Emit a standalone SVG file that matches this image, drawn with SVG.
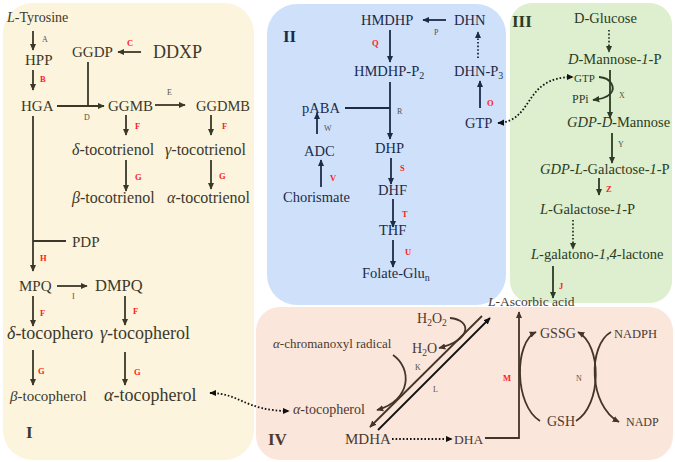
<svg xmlns="http://www.w3.org/2000/svg" width="675" height="462" viewBox="0 0 675 462">
<style>
text{font-family:"Liberation Serif","Times New Roman",serif;}
.t1{fill:#3b392c;}
.t2{fill:#1d2b49;}
.t3{fill:#2c3b24;}
.t4{fill:#4a3a30;}
.red{fill:#ff1a1a;font-weight:bold;font-size:8.5px;}
.lab{fill:#55524a;font-size:8px;}
.roman{font-weight:bold;font-size:17px;}
.i{font-style:italic;}
.c1{stroke:#3b3828;stroke-width:1.8;fill:none;}
.c2{stroke:#1d2b49;stroke-width:1.8;fill:none;}
.c3{stroke:#2c3b24;stroke-width:1.8;fill:none;}
.c4{stroke:#44342a;stroke-width:1.8;fill:none;}
.c5{stroke:#111;stroke-width:1.8;fill:none;}
.dot{stroke-dasharray:1.6 2;}
</style>
<defs>
<marker id="a1" viewBox="0 0 10 10" refX="9" refY="5" markerWidth="7" markerHeight="7" markerUnits="userSpaceOnUse" orient="auto"><path d="M0,0.5 L10,5 L0,9.5 z" fill="#3b3828"/></marker>
<marker id="a2" viewBox="0 0 10 10" refX="9" refY="5" markerWidth="7" markerHeight="7" markerUnits="userSpaceOnUse" orient="auto"><path d="M0,0.5 L10,5 L0,9.5 z" fill="#1d2b49"/></marker>
<marker id="a3" viewBox="0 0 10 10" refX="9" refY="5" markerWidth="7" markerHeight="7" markerUnits="userSpaceOnUse" orient="auto"><path d="M0,0.5 L10,5 L0,9.5 z" fill="#2c3b24"/></marker>
<marker id="a4" viewBox="0 0 10 10" refX="9" refY="5" markerWidth="7" markerHeight="7" markerUnits="userSpaceOnUse" orient="auto"><path d="M0,0.5 L10,5 L0,9.5 z" fill="#44342a"/></marker>
<marker id="a5" viewBox="0 0 10 10" refX="9" refY="5" markerWidth="7" markerHeight="7" markerUnits="userSpaceOnUse" orient="auto"><path d="M0,0.5 L10,5 L0,9.5 z" fill="#111"/></marker>
<marker id="a5s" viewBox="0 0 10 10" refX="1" refY="5" markerWidth="7" markerHeight="7" markerUnits="userSpaceOnUse" orient="auto"><path d="M10,0.5 L0,5 L10,9.5 z" fill="#111"/></marker>
</defs>

<!-- panels -->
<g id="panels">
<rect x="3" y="3" width="251" height="457" rx="30" fill="#fcf4dc"/>
<rect x="267" y="4" width="239" height="301" rx="30" fill="#cfe1fa"/>
<rect x="510" y="3" width="162" height="300" rx="22" fill="#ddefcf"/>
<rect x="256" y="307" width="417" height="153" rx="24" fill="#fbe6dc"/>
</g>

<!-- connectors -->
<g id="connectors">
<!-- panel I -->
<line class="c1" x1="33" y1="31" x2="33" y2="50" marker-end="url(#a1)"/>
<line class="c1" x1="33" y1="70" x2="33" y2="90" marker-end="url(#a1)"/>
<line class="c1" x1="57" y1="106" x2="104" y2="106" marker-end="url(#a1)"/>
<line class="c1" x1="88" y1="62" x2="88" y2="106"/>
<line class="c1" x1="141" y1="52" x2="118" y2="52" marker-end="url(#a1)"/>
<line class="c1" x1="155" y1="105" x2="185" y2="105" marker-end="url(#a1)"/>
<line class="c1" x1="126" y1="115" x2="126" y2="135" marker-end="url(#a1)"/>
<line class="c1" x1="211" y1="115" x2="211" y2="135" marker-end="url(#a1)"/>
<line class="c1" x1="126" y1="160" x2="126" y2="191" marker-end="url(#a1)"/>
<line class="c1" x1="211" y1="160" x2="211" y2="189" marker-end="url(#a1)"/>
<line class="c1" x1="33" y1="116" x2="33" y2="271" marker-end="url(#a1)"/>
<line class="c1" x1="33" y1="241" x2="66" y2="241"/>
<line class="c1" x1="57" y1="286" x2="87" y2="286" marker-end="url(#a1)"/>
<line class="c1" x1="33" y1="296" x2="33" y2="326" marker-end="url(#a1)"/>
<line class="c1" x1="125" y1="296" x2="125" y2="325" marker-end="url(#a1)"/>
<line class="c1" x1="33" y1="350" x2="33" y2="385" marker-end="url(#a1)"/>
<line class="c1" x1="125" y1="352" x2="125" y2="385" marker-end="url(#a1)"/>
<path class="c5 dot" d="M210,393 C240,393 245,411 289,411" marker-start="url(#a5s)" marker-end="url(#a5)"/>
<!-- panel II -->
<line class="c2" x1="446" y1="20" x2="423" y2="20" marker-end="url(#a2)"/>
<line class="c2" x1="390" y1="30" x2="390" y2="62" marker-end="url(#a2)"/>
<line class="c2 dot" x1="478" y1="58" x2="478" y2="32" marker-end="url(#a2)"/>
<line class="c2" x1="480" y1="108" x2="480" y2="81" marker-end="url(#a2)"/>
<line class="c2" x1="390" y1="82" x2="390" y2="139" marker-end="url(#a2)"/>
<line class="c2" x1="345" y1="108" x2="390" y2="108"/>
<line class="c2" x1="317" y1="134" x2="317" y2="113" marker-end="url(#a2)"/>
<line class="c2" x1="321" y1="187" x2="321" y2="160" marker-end="url(#a2)"/>
<line class="c2" x1="391" y1="158" x2="391" y2="184" marker-end="url(#a2)"/>
<line class="c2" x1="393" y1="199" x2="393" y2="227" marker-end="url(#a2)"/>
<line class="c2" x1="393" y1="240" x2="393" y2="267" marker-end="url(#a2)"/>
<path class="c5 dot" d="M498,123 C535,121 522,77 573,77" marker-start="url(#a5s)" marker-end="url(#a5)"/>
<!-- panel III -->
<line class="c3 dot" x1="609" y1="30" x2="609" y2="52" marker-end="url(#a3)"/>
<line class="c3" x1="610" y1="70" x2="610" y2="118" marker-end="url(#a3)"/>
<path class="c3" d="M599,77 C612,78 615,88 611,93 C607,98 600,99 593,100" marker-end="url(#a3)"/>
<line class="c3" x1="612" y1="133" x2="612" y2="163" marker-end="url(#a3)"/>
<line class="c3" x1="599" y1="178" x2="599" y2="195" marker-end="url(#a3)"/>
<line class="c3 dot" x1="573" y1="220" x2="573" y2="249" marker-end="url(#a3)"/>
<line class="c3" x1="553" y1="266" x2="553" y2="298" marker-end="url(#a3)"/>
<!-- panel IV -->
<line class="c5 dot" x1="392" y1="439" x2="452" y2="439" marker-end="url(#a5)"/>
<polyline class="c4" points="485,438 519,438 519,312" marker-end="url(#a4)"/>
<line class="c4" x1="482" y1="316" x2="370" y2="427" marker-end="url(#a4)"/>
<line class="c5" x1="378" y1="430" x2="490" y2="318" marker-end="url(#a5)"/>
<path class="c4" d="M450,318 C472,320 472,340 439,348" marker-end="url(#a4)"/>
<path class="c4" d="M393,355 C412,368 412,400 377,410" marker-end="url(#a4)"/>
<path class="c4" d="M540,421 C514,405 514,342 536,332" marker-end="url(#a4)"/>
<path class="c4" d="M576,421 C602,405 602,345 578,332" marker-end="url(#a4)"/>
<path class="c4" d="M611,332 C588,345 588,405 619,422" marker-end="url(#a4)"/>
</g>

<!-- Panel I nodes -->
<g id="n-tyrosine"><text class="t1" x="7" y="22" font-size="14"><tspan class="i">L</tspan>-Tyrosine</text></g>
<g id="n-hpp"><text class="t1" x="25" y="65" font-size="15">HPP</text></g>
<g id="n-hga"><text class="t1" x="21" y="111" font-size="15">HGA</text></g>
<g id="n-ggdp"><text class="t1" x="72" y="57" font-size="15">GGDP</text></g>
<g id="n-ddxp"><text class="t1" x="153" y="58" font-size="18">DDXP</text></g>
<g id="n-ggmb"><text class="t1" x="108" y="111" font-size="15">GGMB</text></g>
<g id="n-ggdmb"><text class="t1" x="196" y="111" font-size="14.5">GGDMB</text></g>
<g id="n-dtrien"><text class="t1" x="72" y="155" font-size="16"><tspan class="i">δ</tspan>-tocotrienol</text></g>
<g id="n-gtrien"><text class="t1" x="165" y="155" font-size="16"><tspan class="i">γ</tspan>-tocotrienol</text></g>
<g id="n-btrien"><text class="t1" x="72" y="203" font-size="16"><tspan class="i">β</tspan>-tocotrienol</text></g>
<g id="n-atrien"><text class="t1" x="167" y="203" font-size="16"><tspan class="i">α</tspan>-tocotrienol</text></g>
<g id="n-pdp"><text class="t1" x="72" y="247" font-size="15">PDP</text></g>
<g id="n-mpq"><text class="t1" x="19" y="291" font-size="15">MPQ</text></g>
<g id="n-dmpq"><text class="t1" x="95" y="291" font-size="16.5">DMPQ</text></g>
<g id="n-dtoco"><text class="t1" x="7" y="339" font-size="18"><tspan class="i">δ</tspan>-tocophero</text></g>
<g id="n-gtoco"><text class="t1" x="100" y="339" font-size="18"><tspan class="i">γ</tspan>-tocopherol</text></g>
<g id="n-btoco"><text class="t1" x="10" y="401" font-size="15"><tspan class="i">β</tspan>-tocopherol</text></g>
<g id="n-atoco"><text class="t1" x="104" y="401" font-size="18"><tspan class="i">α</tspan>-tocopherol</text></g>
<g id="lbl-I">
<text class="t1 roman" x="26" y="438">I</text>
<text class="lab" x="42" y="42">A</text>
<text class="red" x="40" y="82">B</text>
<text class="red" x="127" y="46">C</text>
<text class="lab" x="84" y="120">D</text>
<text class="lab" x="167" y="95">E</text>
<text class="red" x="135" y="129">F</text>
<text class="red" x="222" y="129">F</text>
<text class="red" x="135" y="180">G</text>
<text class="red" x="219" y="179">G</text>
<text class="red" x="40" y="261">H</text>
<text class="lab" x="72" y="299">I</text>
<text class="red" x="40" y="316">F</text>
<text class="red" x="133" y="314">F</text>
<text class="red" x="38" y="374">G</text>
<text class="red" x="134" y="375">G</text>
</g>

<!-- Panel II nodes -->
<g id="n-hmdhp"><text class="t2" x="361" y="25" font-size="14.5">HMDHP</text></g>
<g id="n-dhn"><text class="t2" x="454" y="25" font-size="14.5">DHN</text></g>
<g id="n-hmdhpp2"><text class="t2" x="354" y="76" font-size="14.5">HMDHP-P<tspan font-size="10" dy="3">2</tspan></text></g>
<g id="n-dhnp3"><text class="t2" x="454" y="76" font-size="14.5">DHN-P<tspan font-size="10" dy="3">3</tspan></text></g>
<g id="n-gtp2"><text class="t2" x="465" y="128" font-size="14.5">GTP</text></g>
<g id="n-paba"><text class="t2" x="302" y="113" font-size="14.5">pABA</text></g>
<g id="n-adc"><text class="t2" x="304" y="156" font-size="14.5">ADC</text></g>
<g id="n-chor"><text class="t2" x="283" y="202" font-size="14.5">Chorismate</text></g>
<g id="n-dhp"><text class="t2" x="375" y="153" font-size="14.5">DHP</text></g>
<g id="n-dhf"><text class="t2" x="378" y="195" font-size="14.5">DHF</text></g>
<g id="n-thf"><text class="t2" x="379" y="235" font-size="14.5">THF</text></g>
<g id="n-folate"><text class="t2" x="362" y="278" font-size="14.5">Folate-Glu<tspan font-size="10" dy="3">n</tspan></text></g>
<g id="lbl-II">
<text class="t2 roman" x="283" y="42">II</text>
<text class="lab" x="434" y="35">P</text>
<text class="red" x="372" y="46">Q</text>
<text class="red" x="487" y="106">O</text>
<text class="lab" x="397" y="114">R</text>
<text class="lab" x="324" y="131">W</text>
<text class="red" x="330" y="181">V</text>
<text class="red" x="400" y="171">S</text>
<text class="red" x="402" y="217">T</text>
<text class="red" x="405" y="255">U</text>
</g>

<!-- Panel III nodes -->
<g id="n-glucose"><text class="t3" x="574" y="23" font-size="14.5">D-Glucose</text></g>
<g id="n-man1p"><text class="t3" x="568" y="64" font-size="14.5"><tspan class="i">D</tspan>-Mannose-<tspan class="i">1</tspan>-P</text></g>
<g id="n-gtp3"><text class="t3" x="574" y="82" font-size="11">GTP</text></g>
<g id="n-ppi"><text class="t3" x="572" y="103" font-size="12">PPi</text></g>
<g id="n-gdpman"><text class="t3" x="567" y="127" font-size="14.5"><tspan class="i">GDP-D-</tspan>Mannose</text></g>
<g id="n-gdpgal"><text class="t3" x="540" y="174" font-size="14.5"><tspan class="i">GDP-L-</tspan>Galactose-<tspan class="i">1</tspan>-P</text></g>
<g id="n-gal1p"><text class="t3" x="540" y="214" font-size="14.5"><tspan class="i">L</tspan>-Galactose-<tspan class="i">1</tspan>-P</text></g>
<g id="n-galaton"><text class="t3" x="531" y="259" font-size="14.5"><tspan class="i">L</tspan>-galatono-<tspan class="i">1,4</tspan>-lactone</text></g>
<g id="lbl-III">
<text class="t3 roman" x="512" y="27">III</text>
<text class="lab" x="619" y="98">X</text>
<text class="lab" x="618" y="147">Y</text>
<text class="red" x="606" y="192">Z</text>
<text class="red" x="559" y="289">J</text>
</g>

<!-- Panel IV nodes -->
<g id="n-asc"><text class="t4" x="488" y="306" font-size="13.5"><tspan class="i">L</tspan>-Ascorbic acid</text></g>
<g id="n-h2o2"><text class="t4" x="417" y="323" font-size="14">H<tspan font-size="9.5" dy="2.5">2</tspan><tspan dy="-2.5">O</tspan><tspan font-size="9.5" dy="2.5">2</tspan></text></g>
<g id="n-h2o"><text class="t4" x="412" y="353" font-size="14">H<tspan font-size="9.5" dy="2.5">2</tspan><tspan dy="-2.5">O</tspan></text></g>
<g id="n-chroman"><text class="t4" x="273" y="348" font-size="13"><tspan class="i">α</tspan>-chromanoxyl radical</text></g>
<g id="n-atoco4"><text class="t4" x="293" y="414" font-size="14"><tspan class="i">α</tspan>-tocopherol</text></g>
<g id="n-mdha"><text class="t4" x="345" y="444" font-size="15">MDHA</text></g>
<g id="n-dha"><text class="t4" x="454" y="444" font-size="13.5">DHA</text></g>
<g id="n-gssg"><text class="t4" x="540" y="338" font-size="14">GSSG</text></g>
<g id="n-nadph"><text class="t4" x="614" y="338" font-size="12.5">NADPH</text></g>
<g id="n-gsh"><text class="t4" x="547" y="426" font-size="14">GSH</text></g>
<g id="n-nadp"><text class="t4" x="626" y="426" font-size="12">NADP</text></g>
<g id="lbl-IV">
<text class="t4 roman" x="268" y="445">IV</text>
<text class="lab" x="415" y="370">K</text>
<text class="lab" x="433" y="392">L</text>
<text class="red" x="503" y="381">M</text>
<text class="lab" x="576" y="381">N</text>
</g>
</svg>
